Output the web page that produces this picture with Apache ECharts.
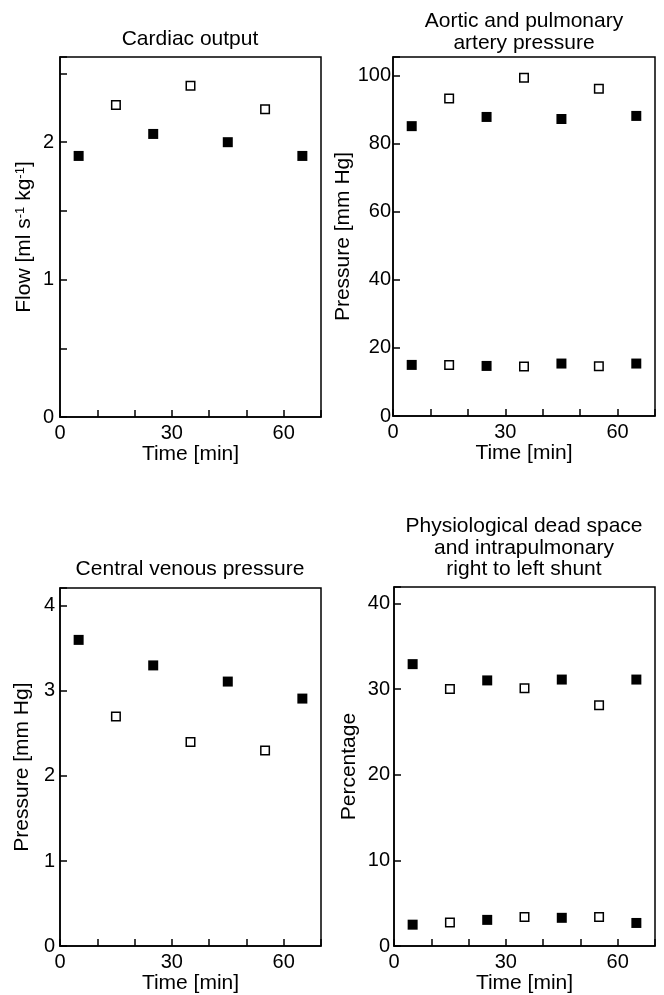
<!DOCTYPE html>
<html>
<head>
<meta charset="utf-8">
<script src="https://cdn.jsdelivr.net/npm/echarts@6/dist/echarts.min.js"></script>
<style>html,body{margin:0;padding:0;background:#fff;}#c{width:664px;height:995px;}</style>
</head>
<body>
<div id="c"></div>
<script>
// ---- data ----
const timeFilled = [5, 25, 45, 65];
const timeOpen = [15, 35, 55];
const cardiacFilled = [1.90, 2.06, 2.00, 1.90];
const cardiacOpen = [2.27, 2.41, 2.24];
const aorticFilled = [85.1, 87.8, 87.2, 88.1];
const aorticOpen = [93.2, 99.3, 96.1];
const pulmonaryFilled = [15.0, 14.7, 15.4, 15.4];
const pulmonaryOpen = [15.0, 14.5, 14.6];
const cvpFilled = [3.60, 3.30, 3.11, 2.91];
const cvpOpen = [2.70, 2.40, 2.30];
const deadSpaceFilled = [32.9, 31.0, 31.1, 31.1];
const deadSpaceOpen = [30.0, 30.1, 28.1];
const shuntFilled = [2.5, 3.06, 3.3, 2.7];
const shuntOpen = [2.75, 3.4, 3.4];
const xTickLabels = [0, 30, 60];
const titles = [
  'Cardiac output',
  'Aortic and pulmonary\nartery pressure',
  'Central venous pressure',
  'Physiological dead space\nand intrapulmonary\nright to left shunt'
];

const FONT = '"Liberation Sans", Arial, Helvetica, sans-serif';
const pair = (xs, ys) => xs.map((x, i) => [x, ys[i]]);

const chart = echarts.init(document.getElementById('c'), null, {renderer: 'canvas'});

const grids = [
  {left: 60, top: 57, width: 261, height: 360},
  {left: 393, top: 57, width: 262, height: 359},
  {left: 60, top: 588, width: 261, height: 360},
  {left: 394, top: 587, width: 261, height: 361}
].map(g => Object.assign(g, {show: true, borderColor: '#000', borderWidth: 1.5, backgroundColor: 'transparent', containLabel: false}));

const tickStyle = {show: true, inside: true, length: 7, lineStyle: {color: '#000', width: 1.5}};
const lineStyle = {show: true, onZero: false, lineStyle: {color: '#000', width: 1.5}};

const xAxes = grids.map((g, i) => ({
  type: 'value', gridIndex: i, min: 0, max: 70, interval: 10,
  axisLine: lineStyle, axisTick: tickStyle, splitLine: {show: false},
  axisLabel: {color: '#000', fontFamily: FONT, fontSize: 20, margin: 6,
    formatter: v => xTickLabels.includes(v) ? String(v) : ''},
  name: 'Time [min]', nameLocation: 'middle', nameGap: 26,
  nameTextStyle: {color: '#000', fontFamily: FONT, fontSize: 21}
}));

function yAxis(i, max, interval, labelFn, name, gap, margin, rich) {
  return {
    type: 'value', gridIndex: i, min: 0, max: max, interval: interval,
    axisLine: lineStyle, axisTick: tickStyle, splitLine: {show: false},
    axisLabel: {color: '#000', fontFamily: FONT, fontSize: 20, margin: margin,
      formatter: v => labelFn(v) ? String(v) : ''},
    name: name, nameLocation: 'middle', nameGap: gap,
    nameTextStyle: Object.assign({color: '#000', fontFamily: FONT, fontSize: 21}, rich ? {rich: rich} : {})
  };
}

const supRich = {
  a: {fontFamily: FONT, fontSize: 21, color: '#000', verticalAlign: 'bottom'},
  s: {fontFamily: FONT, fontSize: 13, color: '#000', verticalAlign: 'top'}
};

const yAxes = [
  yAxis(0, 2.62, 0.5, v => Number.isInteger(v), '{a|Flow [ml s}{s|-1}{a| kg}{s|-1}{a|]}', 25, 6, supRich),
  yAxis(1, 105.4, 20, v => v % 20 === 0 && v <= 100, 'Pressure [mm Hg]', 33, 2),
  yAxis(2, 4.21, 1, v => Number.isInteger(v) && v <= 4, 'Pressure [mm Hg]', 27, 5),
  yAxis(3, 41.9, 10, v => v % 10 === 0 && v <= 40, 'Percentage', 34, 4)
];

const filled = (i, data) => ({
  type: 'scatter', xAxisIndex: i, yAxisIndex: i, data: data,
  symbol: 'rect', symbolSize: 10, itemStyle: {color: '#000', opacity: 1}, silent: true, z: 3
});
const open = (i, data) => ({
  type: 'scatter', xAxisIndex: i, yAxisIndex: i, data: data,
  symbol: 'rect', symbolSize: 8.5, itemStyle: {color: '#fff', borderColor: '#000', borderWidth: 1.5, opacity: 1}, silent: true, z: 3
});

const series = [
  filled(0, pair(timeFilled, cardiacFilled)),
  open(0, pair(timeOpen, cardiacOpen)),
  filled(1, pair(timeFilled, aorticFilled).concat(pair(timeFilled, pulmonaryFilled))),
  open(1, pair(timeOpen, aorticOpen).concat(pair(timeOpen, pulmonaryOpen))),
  filled(2, pair(timeFilled, cvpFilled)),
  open(2, pair(timeOpen, cvpOpen)),
  filled(3, pair(timeFilled, deadSpaceFilled).concat(pair(timeFilled, shuntFilled))),
  open(3, pair(timeOpen, deadSpaceOpen).concat(pair(timeOpen, shuntOpen)))
];

const titlePos = [
  {x: 190, y: 39},
  {x: 524, y: 32},
  {x: 190, y: 569},
  {x: 524, y: 548}
];
const graphic = titles.map((t, i) => ({
  type: 'text', x: titlePos[i].x, y: titlePos[i].y, silent: true,
  style: {text: t, fill: '#000', font: '21px ' + FONT, textAlign: 'center', textVerticalAlign: 'middle', lineHeight: 21.5}
}));

chart.setOption({
  animation: false,
  backgroundColor: '#fff',
  grid: grids,
  xAxis: xAxes,
  yAxis: yAxes,
  series: series,
  graphic: graphic
});
</script>
</body>
</html>
